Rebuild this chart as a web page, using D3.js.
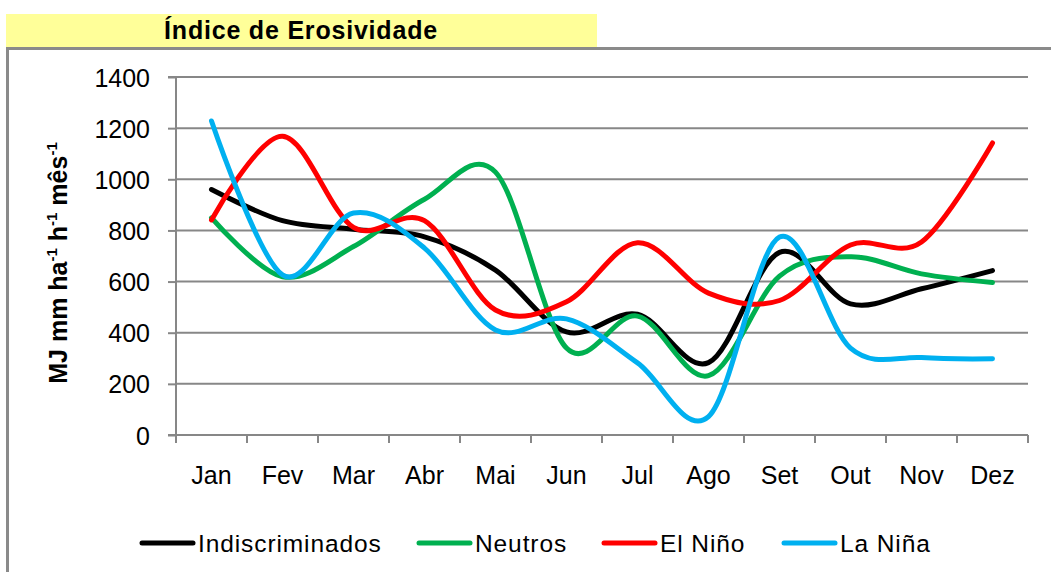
<!DOCTYPE html>
<html>
<head>
<meta charset="utf-8">
<script src="https://cdn.jsdelivr.net/npm/d3@7"></script>
<style>
  body { margin: 0; background: #fff; }
  svg { display: block; font-family: "Liberation Sans", Arial, sans-serif; }
</style>
</head>
<body>
<svg id="chart" width="1051" height="572"></svg>
<script>
// Categories and series
const months = ["Jan", "Fev", "Mar", "Abr", "Mai", "Jun", "Jul", "Ago", "Set", "Out", "Nov", "Dez"]
const indiscriminados = [960, 838, 805, 775, 645, 403, 472, 283, 714, 513, 572, 643]
const neutros = [849, 619, 737, 922, 1028, 340, 465, 232, 621, 697, 630, 596]
const elNino = [841, 1168, 812, 838, 489, 521, 752, 555, 526, 743, 755, 1142]
const laNina = [1228, 626, 868, 731, 411, 454, 282, 72, 774, 340, 303, 298]
const yTicks = [0, 200, 400, 600, 800, 1000, 1200, 1400]

const series = [
  { name: "Indiscriminados", values: indiscriminados, color: "#000000" },
  { name: "Neutros", values: neutros, color: "#00B050" },
  { name: "El Niño", values: elNino, color: "#FF0000" },
  { name: "La Niña", values: laNina, color: "#00B0F0" }
]

const svg = d3.select("#chart")
const grey = "#878787"

// Title band and outer frame
svg.append("rect")
  .attr("x", 6).attr("y", 14).attr("width", 591).attr("height", 33)
  .attr("fill", "#FFFF99")
svg.append("path")
  .attr("d", "M7.5,572 V48.5 H1051")
  .attr("fill", "none").attr("stroke", "#8a8a8a").attr("stroke-width", 3)
svg.append("text")
  .attr("x", 301).attr("y", 39)
  .attr("text-anchor", "middle")
  .attr("font-weight", "bold").attr("font-size", 25)
  .attr("letter-spacing", 0.8)
  .text("Índice de Erosividade")

// Scales
const x = d3.scaleBand().domain(months).range([176, 1028])
const y = d3.scaleLinear().domain([0, 1400]).range([435, 77])
const cx = m => x(m) + x.bandwidth() / 2

// Gridlines
svg.append("g")
  .selectAll("line")
  .data(yTicks.slice(1))
  .join("line")
  .attr("x1", 176).attr("x2", 1028)
  .attr("y1", d => y(d)).attr("y2", d => y(d))
  .attr("stroke", grey).attr("stroke-width", 2)

// Y axis
const yAxis = svg.append("g")
  .attr("transform", "translate(176,0)")
  .call(d3.axisLeft(y).tickValues(yTicks).tickSize(8).tickPadding(18).tickFormat(d3.format("d")))
yAxis.select(".domain").attr("stroke", grey).attr("stroke-width", 2).attr("d", "M-8,435H0V77H-8")
yAxis.selectAll(".tick line").attr("stroke", grey).attr("stroke-width", 2)
yAxis.selectAll(".tick text")
  .attr("font-size", 25).attr("font-family", "Liberation Sans, Arial, sans-serif")
  .attr("fill", "#000").attr("dy", "0.36em")

// X axis: line, boundary ticks, centred labels
const xg = svg.append("g")
xg.append("line")
  .attr("x1", 176).attr("x2", 1028).attr("y1", 435).attr("y2", 435)
  .attr("stroke", grey).attr("stroke-width", 2)
xg.selectAll(".bt")
  .data(months.map(m => x(m)).concat([x.range()[1]]))
  .join("line")
  .attr("class", "bt")
  .attr("x1", d => d).attr("x2", d => d)
  .attr("y1", 435).attr("y2", 443)
  .attr("stroke", grey).attr("stroke-width", 2)
xg.selectAll(".ml")
  .data(months)
  .join("text")
  .attr("class", "ml")
  .attr("x", d => cx(d)).attr("y", 484)
  .attr("text-anchor", "middle")
  .attr("font-size", 25)
  .text(d => d)

// Y axis title
const yt = svg.append("text")
  .attr("transform", "translate(67,263) rotate(-90)")
  .attr("text-anchor", "middle")
  .attr("font-weight", "bold").attr("font-size", 25)
yt.append("tspan").text("MJ mm ha")
yt.append("tspan").attr("font-size", 15).attr("dy", -10).text("-1")
yt.append("tspan").attr("dy", 10).text(" h")
yt.append("tspan").attr("font-size", 15).attr("dy", -10).text("-1")
yt.append("tspan").attr("dy", 10).text(" mês")
yt.append("tspan").attr("font-size", 15).attr("dy", -10).text("-1")

// Smoothed lines
const line = d3.line()
  .x((d, i) => cx(months[i]))
  .y(d => y(d))
  .curve(d3.curveCatmullRom.alpha(0))

svg.append("g")
  .selectAll("path")
  .data(series)
  .join("path")
  .attr("d", d => line(d.values))
  .attr("fill", "none")
  .attr("stroke", d => d.color)
  .attr("stroke-width", 5)
  .attr("stroke-linecap", "round")
  .attr("stroke-linejoin", "round")

// Legend
const legendX = [142, 419, 604, 784]
const lg = svg.append("g")
  .selectAll("g")
  .data(series)
  .join("g")
  .attr("transform", (d, i) => `translate(${legendX[i]},543)`)
lg.append("line")
  .attr("x1", 0).attr("x2", 51).attr("y1", 0).attr("y2", 0)
  .attr("stroke", d => d.color).attr("stroke-width", 5)
  .attr("stroke-linecap", "round")
lg.append("text")
  .attr("x", 56).attr("y", 9)
  .attr("font-size", 24.5)
  .attr("letter-spacing", 0.9)
  .text(d => d.name)
</script>
</body>
</html>
